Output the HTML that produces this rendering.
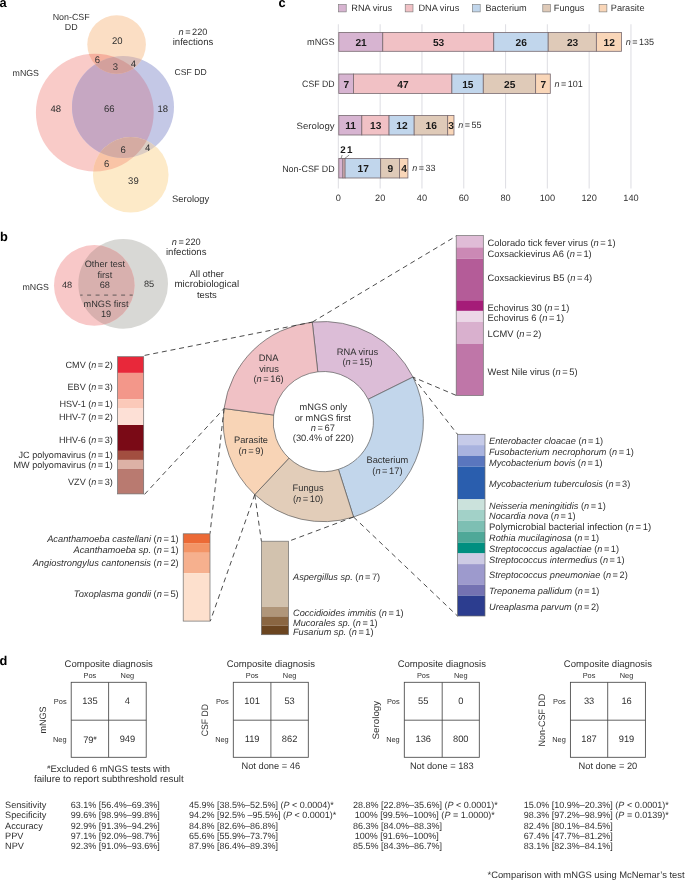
<!DOCTYPE html>
<html><head><meta charset="utf-8"><style>
html,body{margin:0;padding:0;background:#fff;}
svg{display:block;font-family:"Liberation Sans",sans-serif;text-rendering:geometricPrecision;will-change:transform;}
</style></head><body>
<svg width="685" height="880" viewBox="0 0 685 880" fill="#303030">
<rect width="685" height="880" fill="#fff"/>
<text x="-0.50" y="7.00" font-size="12.8" font-weight="bold" fill="#000">a</text>
<defs><clipPath id="cP"><circle cx="94.8" cy="112.6" r="58.9"/></clipPath><clipPath id="cB"><circle cx="123" cy="107" r="51"/></clipPath><clipPath id="cO"><circle cx="116.6" cy="44.45" r="29.3"/></clipPath><clipPath id="cY"><circle cx="130.75" cy="174.8" r="37.8"/></clipPath></defs>
<circle cx="94.8" cy="112.6" r="58.9" fill="#f9cbc8"/>
<circle cx="123" cy="107" r="51" fill="#c4c8e6"/>
<circle cx="116.6" cy="44.45" r="29.3" fill="#fbdec4"/>
<circle cx="130.75" cy="174.8" r="37.8" fill="#fdeac8"/>
<g clip-path="url(#cP)">
<circle cx="123" cy="107" r="51" fill="#c6a7c2"/>
<circle cx="116.6" cy="44.45" r="29.3" fill="#f5b09e"/>
<circle cx="130.75" cy="174.8" r="37.8" fill="#f9c4a6"/>
</g>
<g clip-path="url(#cB)">
<circle cx="116.6" cy="44.45" r="29.3" fill="#d8bdb9"/>
<circle cx="130.75" cy="174.8" r="37.8" fill="#dccdc3"/>
</g>
<g clip-path="url(#cP)"><g clip-path="url(#cB)">
<circle cx="116.6" cy="44.45" r="29.3" fill="#d3a09c"/>
<circle cx="130.75" cy="174.8" r="37.8" fill="#d5aba2"/>
</g></g>
<text x="117.20" y="44.10" font-size="9.5" text-anchor="middle">20</text>
<text x="97.40" y="62.50" font-size="9.5" text-anchor="middle">6</text>
<text x="115.40" y="69.70" font-size="9.5" text-anchor="middle">3</text>
<text x="133.40" y="66.90" font-size="9.5" text-anchor="middle">4</text>
<text x="55.80" y="112.00" font-size="9.5" text-anchor="middle">48</text>
<text x="109.30" y="112.00" font-size="9.5" text-anchor="middle">66</text>
<text x="162.70" y="112.00" font-size="9.5" text-anchor="middle">18</text>
<text x="123.10" y="152.50" font-size="9.5" text-anchor="middle">6</text>
<text x="147.60" y="151.40" font-size="9.5" text-anchor="middle">4</text>
<text x="106.60" y="167.20" font-size="9.5" text-anchor="middle">6</text>
<text x="133.40" y="183.60" font-size="9.5" text-anchor="middle">39</text>
<text x="71.20" y="20.10" font-size="8.9" text-anchor="middle">Non-CSF</text>
<text x="71.20" y="30.30" font-size="8.9" text-anchor="middle">DD</text>
<text x="193.00" y="34.70" font-size="9.2" text-anchor="middle"><tspan font-style="italic">n</tspan> = 220</text>
<text x="193.00" y="45.00" font-size="9.6" text-anchor="middle">infections</text>
<text x="25.80" y="76.20" font-size="8.8" text-anchor="middle">mNGS</text>
<text x="190.60" y="74.50" font-size="8.6" text-anchor="middle">CSF DD</text>
<text x="190.60" y="201.90" font-size="9.4" text-anchor="middle">Serology</text>
<text x="278.60" y="7.00" font-size="12.8" font-weight="bold" fill="#000">c</text>
<line x1="338.35" y1="24.3" x2="338.35" y2="188.4" stroke="#e0e0e5" stroke-width="1.1"/>
<text x="338.35" y="201.30" font-size="9.2" text-anchor="middle">0</text>
<line x1="380.15" y1="24.3" x2="380.15" y2="188.4" stroke="#e0e0e5" stroke-width="1.1"/>
<text x="380.15" y="201.30" font-size="9.2" text-anchor="middle">20</text>
<line x1="421.95" y1="24.3" x2="421.95" y2="188.4" stroke="#e0e0e5" stroke-width="1.1"/>
<text x="421.95" y="201.30" font-size="9.2" text-anchor="middle">40</text>
<line x1="463.75" y1="24.3" x2="463.75" y2="188.4" stroke="#e0e0e5" stroke-width="1.1"/>
<text x="463.75" y="201.30" font-size="9.2" text-anchor="middle">60</text>
<line x1="505.55" y1="24.3" x2="505.55" y2="188.4" stroke="#e0e0e5" stroke-width="1.1"/>
<text x="505.55" y="201.30" font-size="9.2" text-anchor="middle">80</text>
<line x1="547.35" y1="24.3" x2="547.35" y2="188.4" stroke="#e0e0e5" stroke-width="1.1"/>
<text x="547.35" y="201.30" font-size="9.2" text-anchor="middle">100</text>
<line x1="589.15" y1="24.3" x2="589.15" y2="188.4" stroke="#e0e0e5" stroke-width="1.1"/>
<text x="589.15" y="201.30" font-size="9.2" text-anchor="middle">120</text>
<line x1="630.95" y1="24.3" x2="630.95" y2="188.4" stroke="#e0e0e5" stroke-width="1.1"/>
<text x="630.95" y="201.30" font-size="9.2" text-anchor="middle">140</text>
<rect x="338.40" y="4.5" width="7.8" height="7.4" fill="#d7b4d1" stroke="#777" stroke-width="0.6"/>
<text x="351.30" y="11.30" font-size="9.2">RNA virus</text>
<rect x="405.20" y="4.5" width="7.8" height="7.4" fill="#f1c1c5" stroke="#777" stroke-width="0.6"/>
<text x="418.40" y="11.30" font-size="9.2">DNA virus</text>
<rect x="472.40" y="4.5" width="7.8" height="7.4" fill="#c1d6ec" stroke="#777" stroke-width="0.6"/>
<text x="485.40" y="11.30" font-size="9.2">Bacterium</text>
<rect x="542.80" y="4.5" width="7.8" height="7.4" fill="#dfcab8" stroke="#777" stroke-width="0.6"/>
<text x="553.80" y="11.30" font-size="9.2">Fungus</text>
<rect x="599.10" y="4.5" width="7.8" height="7.4" fill="#f9d6b8" stroke="#777" stroke-width="0.6"/>
<text x="610.80" y="11.30" font-size="9.2">Parasite</text>
<rect x="338.80" y="32.4" width="43.97" height="18.90" fill="#d7b4d1" stroke="#77696f" stroke-width="0.8"/>
<text x="361.09" y="45.85" font-size="10.2" text-anchor="middle" font-weight="bold" fill="#1a1a1a">21</text>
<rect x="382.77" y="32.4" width="110.98" height="18.90" fill="#f1c1c5" stroke="#77696f" stroke-width="0.8"/>
<text x="438.56" y="45.85" font-size="10.2" text-anchor="middle" font-weight="bold" fill="#1a1a1a">53</text>
<rect x="493.76" y="32.4" width="54.44" height="18.90" fill="#c1d6ec" stroke="#77696f" stroke-width="0.8"/>
<text x="521.28" y="45.85" font-size="10.2" text-anchor="middle" font-weight="bold" fill="#1a1a1a">26</text>
<rect x="548.20" y="32.4" width="48.16" height="18.90" fill="#dfcab8" stroke="#77696f" stroke-width="0.8"/>
<text x="572.58" y="45.85" font-size="10.2" text-anchor="middle" font-weight="bold" fill="#1a1a1a">23</text>
<rect x="596.36" y="32.4" width="25.13" height="18.90" fill="#f9d6b8" stroke="#77696f" stroke-width="0.8"/>
<text x="609.23" y="45.85" font-size="10.2" text-anchor="middle" font-weight="bold" fill="#1a1a1a">12</text>
<text x="625.79" y="45.05" font-size="9.0"><tspan font-style="italic">n</tspan> = 135</text>
<text x="334.60" y="45.15" font-size="9.2" text-anchor="end" textLength="27.60" lengthAdjust="spacingAndGlyphs">mNGS</text>
<rect x="338.80" y="74" width="14.66" height="19.40" fill="#d7b4d1" stroke="#77696f" stroke-width="0.8"/>
<text x="346.43" y="87.70" font-size="10.2" text-anchor="middle" font-weight="bold" fill="#1a1a1a">7</text>
<rect x="353.46" y="74" width="98.42" height="19.40" fill="#f1c1c5" stroke="#77696f" stroke-width="0.8"/>
<text x="402.97" y="87.70" font-size="10.2" text-anchor="middle" font-weight="bold" fill="#1a1a1a">47</text>
<rect x="451.88" y="74" width="31.41" height="19.40" fill="#c1d6ec" stroke="#77696f" stroke-width="0.8"/>
<text x="467.88" y="87.70" font-size="10.2" text-anchor="middle" font-weight="bold" fill="#1a1a1a">15</text>
<rect x="483.29" y="74" width="52.35" height="19.40" fill="#dfcab8" stroke="#77696f" stroke-width="0.8"/>
<text x="509.76" y="87.70" font-size="10.2" text-anchor="middle" font-weight="bold" fill="#1a1a1a">25</text>
<rect x="535.64" y="74" width="14.66" height="19.40" fill="#f9d6b8" stroke="#77696f" stroke-width="0.8"/>
<text x="543.26" y="87.70" font-size="10.2" text-anchor="middle" font-weight="bold" fill="#1a1a1a">7</text>
<text x="554.59" y="86.90" font-size="9.0"><tspan font-style="italic">n</tspan> = 101</text>
<text x="334.60" y="87.00" font-size="9.2" text-anchor="end" textLength="32.50" lengthAdjust="spacingAndGlyphs">CSF DD</text>
<rect x="338.80" y="115.5" width="23.03" height="19.50" fill="#d7b4d1" stroke="#77696f" stroke-width="0.8"/>
<text x="350.62" y="129.25" font-size="10.2" text-anchor="middle" font-weight="bold" fill="#1a1a1a">11</text>
<rect x="361.83" y="115.5" width="27.22" height="19.50" fill="#f1c1c5" stroke="#77696f" stroke-width="0.8"/>
<text x="375.75" y="129.25" font-size="10.2" text-anchor="middle" font-weight="bold" fill="#1a1a1a">13</text>
<rect x="389.06" y="115.5" width="25.13" height="19.50" fill="#c1d6ec" stroke="#77696f" stroke-width="0.8"/>
<text x="401.92" y="129.25" font-size="10.2" text-anchor="middle" font-weight="bold" fill="#1a1a1a">12</text>
<rect x="414.18" y="115.5" width="33.50" height="19.50" fill="#dfcab8" stroke="#77696f" stroke-width="0.8"/>
<text x="431.24" y="129.25" font-size="10.2" text-anchor="middle" font-weight="bold" fill="#1a1a1a">16</text>
<rect x="447.69" y="115.5" width="6.28" height="19.50" fill="#f9d6b8" stroke="#77696f" stroke-width="0.8"/>
<text x="451.13" y="129.25" font-size="10.2" text-anchor="middle" font-weight="bold" fill="#1a1a1a">3</text>
<text x="458.27" y="128.45" font-size="9.0"><tspan font-style="italic">n</tspan> = 55</text>
<text x="334.60" y="128.55" font-size="9.2" text-anchor="end" textLength="38.00" lengthAdjust="spacingAndGlyphs">Serology</text>
<rect x="338.80" y="158.4" width="4.19" height="19.60" fill="#d7b4d1" stroke="#77696f" stroke-width="0.8"/>
<rect x="342.99" y="158.4" width="2.09" height="19.60" fill="#f1c1c5" stroke="#77696f" stroke-width="0.8"/>
<rect x="345.08" y="158.4" width="35.60" height="19.60" fill="#c1d6ec" stroke="#77696f" stroke-width="0.8"/>
<text x="363.18" y="172.20" font-size="10.2" text-anchor="middle" font-weight="bold" fill="#1a1a1a">17</text>
<rect x="380.68" y="158.4" width="18.85" height="19.60" fill="#dfcab8" stroke="#77696f" stroke-width="0.8"/>
<text x="390.40" y="172.20" font-size="10.2" text-anchor="middle" font-weight="bold" fill="#1a1a1a">9</text>
<rect x="399.53" y="158.4" width="8.38" height="19.60" fill="#f9d6b8" stroke="#77696f" stroke-width="0.8"/>
<text x="404.01" y="172.20" font-size="10.2" text-anchor="middle" font-weight="bold" fill="#1a1a1a">4</text>
<text x="412.20" y="171.40" font-size="9.0"><tspan font-style="italic">n</tspan> = 33</text>
<text x="334.60" y="171.50" font-size="9.2" text-anchor="end" textLength="52.40" lengthAdjust="spacingAndGlyphs">Non-CSF DD</text>
<text x="342.90" y="153.00" font-size="9.8" text-anchor="middle" font-weight="bold" fill="#1a1a1a">2</text>
<text x="349.80" y="153.00" font-size="9.8" text-anchor="middle" font-weight="bold" fill="#1a1a1a">1</text>
<line x1="342.2" y1="155" x2="341.0" y2="158.6" stroke="#444" stroke-width="0.6"/>
<line x1="349.2" y1="155" x2="344.6" y2="158.6" stroke="#444" stroke-width="0.6"/>
<text x="0.00" y="240.70" font-size="12.8" font-weight="bold" fill="#000">b</text>
<defs><clipPath id="cP2"><circle cx="94.3" cy="285.4" r="40.3"/></clipPath></defs>
<circle cx="123.15" cy="283.9" r="44.85" fill="#d8d8d5"/>
<circle cx="94.3" cy="285.4" r="40.3" fill="#f8c8c8"/>
<g clip-path="url(#cP2)">
<circle cx="123.15" cy="283.9" r="44.85" fill="#d8b0ae"/>
</g>
<line x1="80.2" y1="295.1" x2="132.7" y2="295.1" stroke="#444" stroke-width="0.8" stroke-dasharray="4 4.5" stroke-dashoffset="1.6"/>
<text x="104.80" y="267.00" font-size="9.2" text-anchor="middle">Other test</text>
<text x="104.80" y="277.60" font-size="9.2" text-anchor="middle">first</text>
<text x="104.80" y="287.80" font-size="9.2" text-anchor="middle">68</text>
<text x="106.00" y="306.80" font-size="9.2" text-anchor="middle">mNGS first</text>
<text x="106.00" y="317.00" font-size="9.2" text-anchor="middle">19</text>
<text x="67.10" y="287.80" font-size="9.2" text-anchor="middle">48</text>
<text x="149.00" y="287.40" font-size="9.2" text-anchor="middle">85</text>
<text x="35.70" y="290.20" font-size="8.8" text-anchor="middle">mNGS</text>
<text x="186.20" y="244.80" font-size="9.2" text-anchor="middle"><tspan font-style="italic">n</tspan> = 220</text>
<text x="186.20" y="255.20" font-size="9.6" text-anchor="middle">infections</text>
<text x="206.80" y="277.10" font-size="9.4" text-anchor="middle">All other</text>
<text x="206.80" y="287.30" font-size="9.8" text-anchor="middle">microbiological</text>
<text x="206.80" y="297.60" font-size="9.4" text-anchor="middle">tests</text>
<path d="M312.25,322.11 A100.1,100.1 0 0 1 412.96,377.09 L368.18,399.32 A50.1,50.1 0 0 0 317.77,371.81 Z" fill="#dcbdd7" stroke="#5a5a5a" stroke-width="0.7"/>
<path d="M412.96,377.09 A100.1,100.1 0 0 1 353.57,517.01 L338.45,469.35 A50.1,50.1 0 0 0 368.18,399.32 Z" fill="#c2d6eb" stroke="#5a5a5a" stroke-width="0.7"/>
<path d="M353.57,517.01 A100.1,100.1 0 0 1 254.78,494.57 L289.00,458.12 A50.1,50.1 0 0 0 338.45,469.35 Z" fill="#e2cdb9" stroke="#5a5a5a" stroke-width="0.7"/>
<path d="M254.78,494.57 A100.1,100.1 0 0 1 224.06,408.53 L273.63,415.06 A50.1,50.1 0 0 0 289.00,458.12 Z" fill="#f8d4b6" stroke="#5a5a5a" stroke-width="0.7"/>
<path d="M224.06,408.53 A100.1,100.1 0 0 1 312.25,322.11 L317.77,371.81 A50.1,50.1 0 0 0 273.63,415.06 Z" fill="#f0c1c5" stroke="#5a5a5a" stroke-width="0.7"/>
<text x="268.60" y="361.30" font-size="9.3" text-anchor="middle">DNA</text>
<text x="269.00" y="371.50" font-size="9.3" text-anchor="middle">virus</text>
<text x="268.60" y="381.70" font-size="9.3" text-anchor="middle">(<tspan font-style="italic">n</tspan> = 16)</text>
<text x="357.40" y="354.80" font-size="9.3" text-anchor="middle">RNA virus</text>
<text x="357.60" y="365.10" font-size="9.3" text-anchor="middle">(<tspan font-style="italic">n</tspan> = 15)</text>
<text x="323.30" y="410.10" font-size="9.3" text-anchor="middle">mNGS only</text>
<text x="322.80" y="420.50" font-size="9.3" text-anchor="middle">or mNGS first</text>
<text x="322.80" y="430.90" font-size="9.3" text-anchor="middle"><tspan font-style="italic">n</tspan> = 67</text>
<text x="323.30" y="441.40" font-size="9.3" text-anchor="middle">(30.4% of 220)</text>
<text x="251.00" y="443.10" font-size="9.3" text-anchor="middle">Parasite</text>
<text x="251.00" y="453.60" font-size="9.3" text-anchor="middle">(<tspan font-style="italic">n</tspan> = 9)</text>
<text x="308.10" y="491.30" font-size="9.3" text-anchor="middle">Fungus</text>
<text x="308.10" y="501.60" font-size="9.3" text-anchor="middle">(<tspan font-style="italic">n</tspan> = 10)</text>
<text x="387.40" y="463.40" font-size="9.3" text-anchor="middle">Bacterium</text>
<text x="387.40" y="473.70" font-size="9.3" text-anchor="middle">(<tspan font-style="italic">n</tspan> = 17)</text>
<line x1="144.60" y1="355.40" x2="312.25" y2="322.11" stroke="#383838" stroke-width="0.9" stroke-dasharray="5 3.8" fill="none"/>
<line x1="312.25" y1="322.11" x2="456.00" y2="236.20" stroke="#383838" stroke-width="0.9" stroke-dasharray="5 3.8" fill="none"/>
<line x1="144.50" y1="494.40" x2="224.06" y2="408.53" stroke="#383838" stroke-width="0.9" stroke-dasharray="5 3.8" fill="none"/>
<line x1="456.00" y1="395.30" x2="412.96" y2="377.09" stroke="#383838" stroke-width="0.9" stroke-dasharray="5 3.8" fill="none"/>
<line x1="412.96" y1="377.09" x2="457.50" y2="434.30" stroke="#383838" stroke-width="0.9" stroke-dasharray="5 3.8" fill="none"/>
<line x1="353.57" y1="517.01" x2="457.50" y2="616.00" stroke="#383838" stroke-width="0.9" stroke-dasharray="5 3.8" fill="none"/>
<line x1="353.57" y1="517.01" x2="288.70" y2="541.20" stroke="#383838" stroke-width="0.9" stroke-dasharray="5 3.8" fill="none"/>
<line x1="254.78" y1="494.57" x2="261.40" y2="541.20" stroke="#383838" stroke-width="0.9" stroke-dasharray="5 3.8" fill="none"/>
<line x1="224.06" y1="408.53" x2="210.00" y2="533.70" stroke="#383838" stroke-width="0.9" stroke-dasharray="5 3.8" fill="none"/>
<line x1="254.78" y1="494.57" x2="210.30" y2="621.10" stroke="#383838" stroke-width="0.9" stroke-dasharray="5 3.8" fill="none"/>
<rect x="456.2" y="235.60" width="27.10" height="11.80" fill="#e0bcd7"/>
<rect x="456.2" y="247.40" width="27.10" height="11.20" fill="#cb89b5"/>
<rect x="456.2" y="258.60" width="27.10" height="41.70" fill="#b45c98"/>
<rect x="456.2" y="300.30" width="27.10" height="10.60" fill="#a51c78"/>
<rect x="456.2" y="310.90" width="27.10" height="11.00" fill="#ecd7e7"/>
<rect x="456.2" y="321.90" width="27.10" height="21.90" fill="#d9b0ce"/>
<rect x="456.2" y="343.80" width="27.10" height="51.70" fill="#bf76a8"/>
<rect x="456.2" y="235.6" width="27.10" height="159.90" fill="none" stroke="#6e6e6e" stroke-width="0.7"/>
<text x="487.60" y="246.00" font-size="9.35">Colorado tick fever virus (<tspan font-style="italic">n</tspan> = 1)</text>
<text x="487.60" y="257.20" font-size="9.35">Coxsackievirus A6 (<tspan font-style="italic">n</tspan> = 1)</text>
<text x="487.60" y="280.50" font-size="9.35">Coxsackievirus B5 (<tspan font-style="italic">n</tspan> = 4)</text>
<text x="487.60" y="310.50" font-size="9.35">Echovirus 30 (<tspan font-style="italic">n</tspan> = 1)</text>
<text x="487.60" y="321.30" font-size="9.35">Echovirus 6 (<tspan font-style="italic">n</tspan> = 1)</text>
<text x="487.60" y="336.70" font-size="9.35">LCMV (<tspan font-style="italic">n</tspan> = 2)</text>
<text x="487.60" y="374.50" font-size="9.35">West Nile virus (<tspan font-style="italic">n</tspan> = 5)</text>
<rect x="457.5" y="434.30" width="27.50" height="10.80" fill="#c6cbe9"/>
<rect x="457.5" y="445.10" width="27.50" height="10.70" fill="#a9b3df"/>
<rect x="457.5" y="455.80" width="27.50" height="10.80" fill="#5a76be"/>
<rect x="457.5" y="466.60" width="27.50" height="32.70" fill="#2a5eae"/>
<rect x="457.5" y="499.30" width="27.50" height="10.50" fill="#cbe2dc"/>
<rect x="457.5" y="509.80" width="27.50" height="11.00" fill="#a2d1c8"/>
<rect x="457.5" y="520.80" width="27.50" height="11.10" fill="#7dbfb3"/>
<rect x="457.5" y="531.90" width="27.50" height="10.90" fill="#4fa898"/>
<rect x="457.5" y="542.80" width="27.50" height="10.60" fill="#008f80"/>
<rect x="457.5" y="553.40" width="27.50" height="10.70" fill="#cdcbe4"/>
<rect x="457.5" y="564.10" width="27.50" height="20.40" fill="#9d9acd"/>
<rect x="457.5" y="584.50" width="27.50" height="11.10" fill="#7472b2"/>
<rect x="457.5" y="595.60" width="27.50" height="20.40" fill="#2c3d8f"/>
<rect x="457.5" y="434.3" width="27.50" height="181.70" fill="none" stroke="#6e6e6e" stroke-width="0.7"/>
<text x="489.00" y="443.70" font-size="9.2"><tspan font-style="italic">Enterobacter cloacae</tspan> (<tspan font-style="italic">n</tspan> = 1)</text>
<text x="489.00" y="455.30" font-size="9.2"><tspan font-style="italic">Fusobacterium necrophorum</tspan> (<tspan font-style="italic">n</tspan> = 1)</text>
<text x="489.00" y="465.90" font-size="9.2"><tspan font-style="italic">Mycobacterium bovis</tspan> (<tspan font-style="italic">n</tspan> = 1)</text>
<text x="489.00" y="487.00" font-size="9.2"><tspan font-style="italic">Mycobacterium tuberculosis</tspan> (<tspan font-style="italic">n</tspan> = 3)</text>
<text x="489.00" y="508.50" font-size="9.2"><tspan font-style="italic">Neisseria meningitidis</tspan> (<tspan font-style="italic">n</tspan> = 1)</text>
<text x="489.00" y="519.20" font-size="9.2"><tspan font-style="italic">Nocardia nova</tspan> (<tspan font-style="italic">n</tspan> = 1)</text>
<text x="489.00" y="530.20" font-size="9.55">Polymicrobial bacterial infection (<tspan font-style="italic">n</tspan> = 1)</text>
<text x="489.00" y="541.30" font-size="9.2"><tspan font-style="italic">Rothia mucilaginosa</tspan> (<tspan font-style="italic">n</tspan> = 1)</text>
<text x="489.00" y="551.80" font-size="9.2"><tspan font-style="italic">Streptococcus agalactiae</tspan> (<tspan font-style="italic">n</tspan> = 1)</text>
<text x="489.00" y="562.60" font-size="9.2"><tspan font-style="italic">Streptococcus intermedius</tspan> (<tspan font-style="italic">n</tspan> = 1)</text>
<text x="489.00" y="577.70" font-size="9.2"><tspan font-style="italic">Streptococcus pneumoniae</tspan> (<tspan font-style="italic">n</tspan> = 2)</text>
<text x="489.00" y="594.30" font-size="9.2"><tspan font-style="italic">Treponema pallidum</tspan> (<tspan font-style="italic">n</tspan> = 1)</text>
<text x="489.00" y="610.10" font-size="9.2"><tspan font-style="italic">Ureaplasma parvum</tspan> (<tspan font-style="italic">n</tspan> = 2)</text>
<rect x="117.6" y="356.70" width="26.10" height="16.20" fill="#e8283a"/>
<rect x="117.6" y="372.90" width="26.10" height="26.20" fill="#f3978a"/>
<rect x="117.6" y="399.10" width="26.10" height="8.90" fill="#fbc9b9"/>
<rect x="117.6" y="408.00" width="26.10" height="17.00" fill="#fde0d6"/>
<rect x="117.6" y="425.00" width="26.10" height="25.90" fill="#7a0a16"/>
<rect x="117.6" y="450.90" width="26.10" height="9.00" fill="#a24e40"/>
<rect x="117.6" y="459.90" width="26.10" height="9.00" fill="#ddb2a6"/>
<rect x="117.6" y="468.90" width="26.10" height="25.00" fill="#b97a70"/>
<rect x="117.6" y="356.7" width="26.10" height="137.20" fill="none" stroke="#6e6e6e" stroke-width="0.7"/>
<text x="112.80" y="368.00" font-size="9.1" text-anchor="end">CMV (<tspan font-style="italic">n</tspan> = 2)</text>
<text x="112.80" y="390.10" font-size="9.1" text-anchor="end">EBV (<tspan font-style="italic">n</tspan> = 3)</text>
<text x="112.80" y="406.50" font-size="9.1" text-anchor="end">HSV-1 (<tspan font-style="italic">n</tspan> = 1)</text>
<text x="112.80" y="419.80" font-size="9.1" text-anchor="end">HHV-7 (<tspan font-style="italic">n</tspan> = 2)</text>
<text x="112.80" y="442.60" font-size="9.1" text-anchor="end">HHV-6 (<tspan font-style="italic">n</tspan> = 3)</text>
<text x="112.80" y="457.70" font-size="9.1" text-anchor="end">JC polyomavirus (<tspan font-style="italic">n</tspan> = 1)</text>
<text x="112.80" y="468.20" font-size="9.1" text-anchor="end">MW polyomavirus (<tspan font-style="italic">n</tspan> = 1)</text>
<text x="112.80" y="485.40" font-size="9.1" text-anchor="end">VZV (<tspan font-style="italic">n</tspan> = 3)</text>
<rect x="183.2" y="533.80" width="26.80" height="9.30" fill="#ec6a36"/>
<rect x="183.2" y="543.10" width="26.80" height="9.70" fill="#f39466"/>
<rect x="183.2" y="552.80" width="26.80" height="20.30" fill="#f6b08e"/>
<rect x="183.2" y="573.10" width="26.80" height="48.00" fill="#fde0cd"/>
<rect x="183.2" y="533.8" width="26.80" height="87.30" fill="none" stroke="#6e6e6e" stroke-width="0.7"/>
<text x="178.70" y="541.50" font-size="9.3" text-anchor="end"><tspan font-style="italic">Acanthamoeba castellani</tspan> (<tspan font-style="italic">n</tspan> = 1)</text>
<text x="178.70" y="552.80" font-size="9.3" text-anchor="end"><tspan font-style="italic">Acanthamoeba sp.</tspan> (<tspan font-style="italic">n</tspan> = 1)</text>
<text x="178.70" y="565.70" font-size="9.3" text-anchor="end"><tspan font-style="italic">Angiostrongylus cantonensis</tspan> (<tspan font-style="italic">n</tspan> = 2)</text>
<text x="178.70" y="596.70" font-size="9.3" text-anchor="end"><tspan font-style="italic">Toxoplasma gondii</tspan> (<tspan font-style="italic">n</tspan> = 5)</text>
<rect x="261.4" y="541.20" width="27.20" height="65.70" fill="#d2c2ae"/>
<rect x="261.4" y="606.90" width="27.20" height="9.50" fill="#b0967a"/>
<rect x="261.4" y="616.40" width="27.20" height="9.20" fill="#8a6642"/>
<rect x="261.4" y="625.60" width="27.20" height="9.10" fill="#6b4520"/>
<rect x="261.4" y="541.2" width="27.20" height="93.50" fill="none" stroke="#6e6e6e" stroke-width="0.7"/>
<text x="293.00" y="579.80" font-size="9.2"><tspan font-style="italic">Aspergillus sp.</tspan> (<tspan font-style="italic">n</tspan> = 7)</text>
<text x="293.00" y="615.50" font-size="9.2"><tspan font-style="italic">Coccidioides immitis</tspan> (<tspan font-style="italic">n</tspan> = 1)</text>
<text x="293.00" y="626.20" font-size="9.2"><tspan font-style="italic">Mucorales sp.</tspan> (<tspan font-style="italic">n</tspan> = 1)</text>
<text x="293.00" y="634.90" font-size="9.2"><tspan font-style="italic">Fusarium sp.</tspan> (<tspan font-style="italic">n</tspan> = 1)</text>
<text x="-0.60" y="664.70" font-size="12.8" font-weight="bold" fill="#000">d</text>
<rect x="71.2" y="682.3" width="75" height="75.00" fill="none" stroke="#474747" stroke-width="0.85"/>
<line x1="108.6" y1="682.3" x2="108.6" y2="757.3" stroke="#474747" stroke-width="0.85"/>
<line x1="71.2" y1="720.2" x2="146.2" y2="720.2" stroke="#474747" stroke-width="0.85"/>
<text x="108.70" y="666.50" font-size="9.5" text-anchor="middle">Composite diagnosis</text>
<text x="89.90" y="678.30" font-size="7.4" text-anchor="middle">Pos</text>
<text x="127.40" y="678.30" font-size="7.4" text-anchor="middle">Neg</text>
<text x="66.60" y="704.00" font-size="7.4" text-anchor="end">Pos</text>
<text x="66.60" y="741.50" font-size="7.4" text-anchor="end">Neg</text>
<text x="89.90" y="704.10" font-size="9.3" text-anchor="middle">135</text>
<text x="127.40" y="704.10" font-size="9.3" text-anchor="middle">4</text>
<text x="89.90" y="742.80" font-size="9.3" text-anchor="middle">79<tspan font-size="5.5" dy="-3">#</tspan></text>
<text x="127.40" y="741.60" font-size="9.3" text-anchor="middle">949</text>
<text x="0" y="0" font-size="9.3" text-anchor="middle" fill="#303030" textLength="27.0" lengthAdjust="spacingAndGlyphs" transform="translate(45.90,720.1) rotate(-90)">mNGS</text>
<rect x="233.3" y="682.3" width="75" height="75.00" fill="none" stroke="#474747" stroke-width="0.85"/>
<line x1="270.9" y1="682.3" x2="270.9" y2="757.3" stroke="#474747" stroke-width="0.85"/>
<line x1="233.3" y1="720.2" x2="308.3" y2="720.2" stroke="#474747" stroke-width="0.85"/>
<text x="270.80" y="666.50" font-size="9.5" text-anchor="middle">Composite diagnosis</text>
<text x="252.10" y="678.30" font-size="7.4" text-anchor="middle">Pos</text>
<text x="289.60" y="678.30" font-size="7.4" text-anchor="middle">Neg</text>
<text x="228.70" y="704.00" font-size="7.4" text-anchor="end">Pos</text>
<text x="228.70" y="741.50" font-size="7.4" text-anchor="end">Neg</text>
<text x="252.10" y="704.10" font-size="9.3" text-anchor="middle">101</text>
<text x="289.60" y="704.10" font-size="9.3" text-anchor="middle">53</text>
<text x="252.10" y="741.60" font-size="9.3" text-anchor="middle">119</text>
<text x="289.60" y="741.60" font-size="9.3" text-anchor="middle">862</text>
<text x="0" y="0" font-size="9.3" text-anchor="middle" fill="#303030" textLength="32.4" lengthAdjust="spacingAndGlyphs" transform="translate(207.90,720.1) rotate(-90)">CSF DD</text>
<text x="270.80" y="768.70" font-size="9.3" text-anchor="middle">Not done = 46</text>
<rect x="404.3" y="682.3" width="75" height="75.00" fill="none" stroke="#474747" stroke-width="0.85"/>
<line x1="442.2" y1="682.3" x2="442.2" y2="757.3" stroke="#474747" stroke-width="0.85"/>
<line x1="404.3" y1="720.2" x2="479.3" y2="720.2" stroke="#474747" stroke-width="0.85"/>
<text x="441.80" y="666.50" font-size="9.5" text-anchor="middle">Composite diagnosis</text>
<text x="423.25" y="678.30" font-size="7.4" text-anchor="middle">Pos</text>
<text x="460.75" y="678.30" font-size="7.4" text-anchor="middle">Neg</text>
<text x="399.70" y="704.00" font-size="7.4" text-anchor="end">Pos</text>
<text x="399.70" y="741.50" font-size="7.4" text-anchor="end">Neg</text>
<text x="423.25" y="704.10" font-size="9.3" text-anchor="middle">55</text>
<text x="460.75" y="704.10" font-size="9.3" text-anchor="middle">0</text>
<text x="423.25" y="741.60" font-size="9.3" text-anchor="middle">136</text>
<text x="460.75" y="741.60" font-size="9.3" text-anchor="middle">800</text>
<text x="0" y="0" font-size="9.3" text-anchor="middle" fill="#303030" textLength="38.6" lengthAdjust="spacingAndGlyphs" transform="translate(379.20,720.1) rotate(-90)">Serology</text>
<text x="441.80" y="768.70" font-size="9.3" text-anchor="middle">Not done = 183</text>
<rect x="570.4" y="682.3" width="75" height="75.00" fill="none" stroke="#474747" stroke-width="0.85"/>
<line x1="607.7" y1="682.3" x2="607.7" y2="757.3" stroke="#474747" stroke-width="0.85"/>
<line x1="570.4" y1="720.2" x2="645.4" y2="720.2" stroke="#474747" stroke-width="0.85"/>
<text x="607.90" y="666.50" font-size="9.5" text-anchor="middle">Composite diagnosis</text>
<text x="589.05" y="678.30" font-size="7.4" text-anchor="middle">Pos</text>
<text x="626.55" y="678.30" font-size="7.4" text-anchor="middle">Neg</text>
<text x="565.80" y="704.00" font-size="7.4" text-anchor="end">Pos</text>
<text x="565.80" y="741.50" font-size="7.4" text-anchor="end">Neg</text>
<text x="589.05" y="704.10" font-size="9.3" text-anchor="middle">33</text>
<text x="626.55" y="704.10" font-size="9.3" text-anchor="middle">16</text>
<text x="589.05" y="741.60" font-size="9.3" text-anchor="middle">187</text>
<text x="626.55" y="741.60" font-size="9.3" text-anchor="middle">919</text>
<text x="0" y="0" font-size="9.3" text-anchor="middle" fill="#303030" textLength="52.8" lengthAdjust="spacingAndGlyphs" transform="translate(545.00,720.1) rotate(-90)">Non-CSF DD</text>
<text x="607.90" y="768.70" font-size="9.3" text-anchor="middle">Not done = 20</text>
<text x="108.70" y="771.60" font-size="9.45" text-anchor="middle"><tspan font-size="5.5" dy="-3">#</tspan><tspan dy="3">Excluded 6 mNGS tests with</tspan></text>
<text x="108.80" y="781.70" font-size="9.7" text-anchor="middle">failure to report subthreshold result</text>
<text x="5.00" y="808.00" font-size="9.2">Sensitivity</text>
<text x="70.70" y="808.00" font-size="9.0">63.1% [56.4%–69.3%]</text>
<text x="188.90" y="808.00" font-size="9.0">45.9% [38.5%–52.5%] (<tspan font-style="italic">P</tspan> &lt; 0.0004)*</text>
<text x="353.00" y="808.00" font-size="9.0">28.8% [22.8%–35.6%] (<tspan font-style="italic">P</tspan> &lt; 0.0001)*</text>
<text x="523.80" y="808.00" font-size="9.0">15.0% [10.9%–20.3%] (<tspan font-style="italic">P</tspan> &lt; 0.0001)*</text>
<text x="5.00" y="818.25" font-size="9.2">Specificity</text>
<text x="70.70" y="818.25" font-size="9.0">99.6% [98.9%–99.8%]</text>
<text x="188.90" y="818.25" font-size="9.0">94.2% [92.5% –95.5%] (<tspan font-style="italic">P</tspan> &lt; 0.0001)*</text>
<text x="353.00" y="818.25" font-size="9.0"> 100% [99.5%–100%] (<tspan font-style="italic">P</tspan> = 1.0000)*</text>
<text x="523.80" y="818.25" font-size="9.0">98.3% [97.2%–98.9%] (<tspan font-style="italic">P</tspan> = 0.0139)*</text>
<text x="5.00" y="828.50" font-size="9.2">Accuracy</text>
<text x="70.70" y="828.50" font-size="9.0">92.9% [91.3%–94.2%]</text>
<text x="188.90" y="828.50" font-size="9.0">84.8% [82.6%–86.8%]</text>
<text x="353.00" y="828.50" font-size="9.0">86.3% [84.0%–88.3%]</text>
<text x="523.80" y="828.50" font-size="9.0">82.4% [80.1%–84.5%]</text>
<text x="5.00" y="838.75" font-size="9.2">PPV</text>
<text x="70.70" y="838.75" font-size="9.0">97.1% [92.0%–98.7%]</text>
<text x="188.90" y="838.75" font-size="9.0">65.6% [55.9%–73.7%]</text>
<text x="353.00" y="838.75" font-size="9.0"> 100% [91.6%–100%]</text>
<text x="523.80" y="838.75" font-size="9.0">67.4% [47.7%–81.2%]</text>
<text x="5.00" y="849.00" font-size="9.2">NPV</text>
<text x="70.70" y="849.00" font-size="9.0">92.3% [91.0%–93.6%]</text>
<text x="188.90" y="849.00" font-size="9.0">87.9% [86.4%–89.3%]</text>
<text x="353.00" y="849.00" font-size="9.0">85.5% [84.3%–86.7%]</text>
<text x="523.80" y="849.00" font-size="9.0">83.1% [82.3%–84.1%]</text>
<text x="684.60" y="878.30" font-size="9.4" text-anchor="end">*Comparison with mNGS using McNemar’s test</text>
</svg>
</body></html>
